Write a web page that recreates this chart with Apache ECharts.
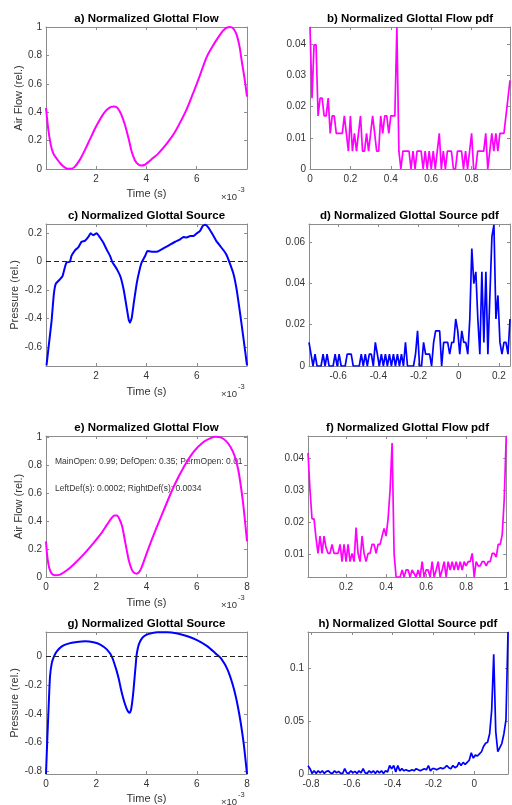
<!DOCTYPE html>
<html>
<head>
<meta charset="utf-8">
<script src="https://cdn.jsdelivr.net/npm/echarts@6/dist/echarts.min.js"></script>
<style>
  html, body { margin: 0; padding: 0; background: #fff; }
  #charts { width: 512px; height: 805px; }
</style>
</head>
<body>
<div id="charts"></div>
<script>
// a) measured glottal flow, time in ms (axis shows x10^-3 s)
var flowTimeA = [0.01,0.1,0.2,0.3,0.45,0.6,0.75,0.88,1.0,1.15,1.36,1.56,1.76,1.96,2.16,2.3,2.45,2.6,2.72,2.85,3.0,3.15,3.3,3.42,3.55,3.67,3.8,3.92,4.05,4.25,4.45,4.68,4.9,5.1,5.35,5.6,5.85,6.1,6.4,6.65,6.85,7.05,7.2,7.32,7.45,7.58,7.7,7.8,7.9,8.0];
var flowA = [0.43,0.28,0.17,0.11,0.07,0.035,0.012,0.002,0.002,0.015,0.066,0.135,0.21,0.285,0.35,0.39,0.42,0.437,0.44,0.43,0.385,0.31,0.21,0.12,0.06,0.033,0.024,0.028,0.045,0.075,0.105,0.15,0.2,0.25,0.33,0.42,0.53,0.645,0.79,0.87,0.925,0.975,0.995,1.0,0.99,0.95,0.865,0.75,0.64,0.51];

// b) pdf of a, bins from 0 step 0.01
var pdfStartB = 0, pdfStepB = 0.01;
var pdfB = [0.0455,0.0227,0.0398,0.0398,0.017,0.0227,0.0227,0.017,0.017,0.0227,
  0.0114,0.017,0.017,0.0114,0.0114,0.0114,0.0114,0.017,0.0114,0.0057,
  0.017,0.0057,0.0114,0.0057,0.0114,0.017,0.0057,0.0057,0.0114,0.0057,
  0.0114,0.017,0.0114,0.0057,0.0057,0.017,0.0114,0.017,0.017,0.0114,
  0.017,0.017,0.017,0.0455,0.0057,0,0.0057,0.0057,0.0057,0.0057,
  0,0.0057,0,0.0057,0.0057,0.0057,0,0.0057,0,0.0057,
  0,0.0057,0,0.0057,0.0114,0,0.0057,0,0.0057,0.0057,
  0.0057,0,0,0.0057,0.0057,0.0057,0,0.0057,0,0.0057,
  0.0114,0,0,0.0057,0.0057,0.0057,0.0057,0.0114,0,0.0057,
  0.0114,0.0057,0.0114,0.0057,0.0114,0.0114,0.0114,0.017,0.0227,0.0284];

// c) measured glottal source
var sourceTimeC = [0.04,0.15,0.24,0.33,0.41,0.57,0.68,0.77,0.83,0.97,1.03,1.17,1.3,1.43,1.56,1.70,1.79,1.89,2.03,2.16,2.29,2.42,2.56,2.66,2.75,2.85,2.98,3.11,3.22,3.3,3.35,3.42,3.51,3.62,3.72,3.81,3.95,4.04,4.21,4.41,4.54,4.74,4.94,5.14,5.34,5.47,5.6,5.74,5.87,6.0,6.13,6.23,6.33,6.46,6.6,6.77,6.93,7.06,7.17,7.3,7.46,7.59,7.72,7.85,7.99];
var sourceC = [-0.73,-0.56,-0.42,-0.23,-0.155,-0.125,-0.10,-0.04,-0.007,0,0.04,0.08,0.10,0.14,0.146,0.174,0.2,0.186,0.2,0.17,0.134,0.087,0.04,-0.007,-0.03,-0.06,-0.11,-0.207,-0.325,-0.41,-0.43,-0.395,-0.28,-0.15,-0.066,-0.007,0.04,0.075,0.07,0.07,0.08,0.10,0.12,0.14,0.157,0.174,0.17,0.18,0.18,0.2,0.216,0.25,0.26,0.24,0.2,0.146,0.11,0.08,0.05,-0.007,-0.09,-0.207,-0.37,-0.54,-0.73];

// d) pdf of c
var pdfStartD = -0.745, pdfStepD = 0.01;
var pdfD = [0.0114,0.0057,0,0.0057,0,0,0,0.0057,0,0.0057,
  0,0,0,0.0057,0,0.0057,0,0,0,0.0057,
  0.0057,0.0057,0,0,0,0,0.0057,0,0.0057,0,
  0.0057,0.0057,0,0.0114,0.0057,0,0.0057,0,0.0057,0,
  0.0057,0,0.0057,0,0.0057,0,0.0057,0,0.0114,0,
  0,0,0,0.0057,0.017,0,0,0.0114,0.0057,0.0057,
  0.0057,0,0.0114,0.017,0.017,0.017,0,0.0114,0.0114,0.0114,
  0.0057,0.0114,0.0114,0.0227,0.017,0.0057,0.017,0.0114,0.0114,0.0057,
  0.0227,0.0568,0.0398,0.0455,0.0227,0.0057,0.0455,0.0114,0.0455,0.0057,
  0.0341,0.0625,0.0682,0.0227,0.0341,0.0114,0.0057,0.0114,0.0114,0.0057,
  0.0227];

// e) model glottal flow
var flowTimeE = [0,0.05,0.13,0.23,0.36,0.56,0.83,1.09,1.49,1.89,2.16,2.43,2.6,2.72,2.82,2.92,3.03,3.16,3.29,3.41,3.51,3.6,3.68,3.78,3.89,4.09,4.36,4.69,5.09,5.49,5.89,6.29,6.55,6.75,6.95,7.16,7.35,7.5,7.65,7.83,8.0];
var flowE = [0.255,0.15,0.064,0.024,0.012,0.017,0.048,0.088,0.16,0.243,0.303,0.375,0.42,0.44,0.44,0.415,0.363,0.243,0.124,0.055,0.03,0.024,0.03,0.058,0.11,0.21,0.335,0.48,0.65,0.79,0.9,0.97,0.995,1.005,1.0,0.975,0.93,0.87,0.77,0.55,0.255];

// f) pdf of e
var pdfStartF = 0.01, pdfStepF = 0.01;
var pdfF = [0.0416,0.030,0.021,0.021,0.015,0.0102,0.0156,0.0102,0.0156,0.012,
  0.0102,0.0102,0.013,0.0102,0.0102,0.0102,0.013,0.0076,0.013,0.0076,
  0.013,0.0076,0.0102,0.0076,0.0183,0.0102,0.0076,0.0156,0.0102,0.0076,
  0.0102,0.0102,0.013,0.013,0.0102,0.013,0.013,0.0156,0.018,0.0156,
  0.021,0.030,0.0447,0.010,0.0028,0.0028,0.0028,0.005,0.0028,0.005,
  0.005,0.0028,0.005,0.0039,0.0028,0.005,0.0028,0.0076,0.0028,0.005,
  0.005,0.0028,0.0076,0.0028,0.005,0.0076,0.0028,0.005,0.0076,0.0028,
  0.0076,0.005,0.0076,0.005,0.0076,0.005,0.0076,0.005,0.0076,0.0063,
  0.0076,0.0076,0.0102,0.0028,0.0076,0.0063,0.0063,0.0076,0.0076,0.0063,
  0.0076,0.0076,0.0102,0.0102,0.009,0.013,0.013,0.016,0.027,0.0468];

// g) model glottal source
var sourceTimeG = [0,0.05,0.11,0.16,0.23,0.32,0.43,0.63,0.89,1.23,1.56,1.89,2.16,2.43,2.63,2.8,2.9,2.96,3.04,3.12,3.2,3.27,3.33,3.38,3.43,3.48,3.53,3.57,3.6,3.64,3.7,3.78,3.9,4.09,4.43,4.83,5.23,5.63,6.03,6.43,6.76,6.96,7.23,7.49,7.69,7.87,8.0];
var sourceG = [-0.82,-0.585,-0.33,-0.14,-0.047,0,0.035,0.07,0.089,0.1,0.105,0.098,0.082,0.047,-0.005,-0.094,-0.16,-0.21,-0.27,-0.32,-0.36,-0.385,-0.393,-0.375,-0.32,-0.24,-0.14,-0.06,0,0.045,0.085,0.115,0.14,0.157,0.168,0.168,0.159,0.14,0.112,0.07,0.019,-0.012,-0.094,-0.234,-0.40,-0.61,-0.82];

// h) pdf of g
var pdfStartH = -0.815, pdfStepH = 0.01;
var pdfH = [0.0078,0.005,0.0006,0.003,0.0006,0.003,0.001,0.003,0.0006,0.0025,
  0.003,0.001,0.0006,0.003,0.001,0.0025,0.0006,0.0006,0.005,0.001,
  0.0006,0.003,0.001,0.0025,0.0006,0.003,0.001,0.005,0.001,0.0006,
  0.003,0.001,0.003,0.0006,0.003,0.001,0.003,0.0006,0.003,0.002,
  0.008,0.005,0.008,0.002,0.008,0.003,0.005,0.003,0.004,0.003,
  0.003,0.004,0.003,0.005,0.004,0.003,0.004,0.005,0.004,0.008,
  0.003,0.005,0.005,0.004,0.005,0.006,0.005,0.006,0.008,0.006,
  0.005,0.008,0.006,0.007,0.011,0.008,0.011,0.009,0.011,0.013,
  0.02,0.015,0.018,0.017,0.019,0.021,0.026,0.029,0.03,0.038,
  0.06,0.113,0.04,0.021,0.025,0.029,0.038,0.051,0.134];

// tick values
var timeTicks = [2, 4, 6];
var timeTicksFull = [0, 2, 4, 6, 8];
var unitTicks = [0, 0.2, 0.4, 0.6, 0.8, 1];
var sourceTicksC = [-0.6, -0.4, -0.2, 0, 0.2];
var sourceTicksG = [-0.8, -0.6, -0.4, -0.2, 0];
var pdfTicksB = [0, 0.01, 0.02, 0.03, 0.04];
var pdfTicksD = [0, 0.02, 0.04, 0.06];
var pdfTicksF = [0.01, 0.02, 0.03, 0.04];
var pdfTicksH = [0, 0.05, 0.1];
var flowBinTicksB = [0, 0.2, 0.4, 0.6, 0.8];
var flowBinTicksF = [0.2, 0.4, 0.6, 0.8, 1];
var srcBinTicksD = [-0.6, -0.4, -0.2, 0, 0.2];
var srcBinTicksH = [-0.8, -0.6, -0.4, -0.2, 0];

var MAGENTA = '#ff00ff', BLUE = '#0000ff';
var FONT = '"Liberation Sans", Arial, Helvetica, sans-serif';

function zip(xs, ys) {
    var out = [];
    for (var i = 0; i < Math.min(xs.length, ys.length); i++) out.push([xs[i], ys[i]]);
    return out;
}
function bins(start, step, vals) {
    return vals.map(function (v, i) { return [+(start + step * i).toFixed(4), v]; });
}

var panels = [
    {title: 'a) Normalized Glottal Flow', grid: [46, 27, 201, 142], xr: [0.01, 8.0, timeTicks], yr: [0, 1, unitTicks],
     data: zip(flowTimeA, flowA), color: MAGENTA, smooth: 0.3, yName: 'Air Flow (rel.)', yGap: 17, xName: 'Time (s)', xGap: 19, exp: true},
    {title: 'b) Normalized Glottal Flow pdf', grid: [310, 27, 200, 142], xr: [0, 0.99, flowBinTicksB], yr: [0, 0.0455, pdfTicksB],
     data: bins(pdfStartB, pdfStepB, pdfB), color: MAGENTA, smooth: false},
    {title: 'c) Normalized Glottal Source', grid: [46, 224, 201, 142], xr: [0.02, 7.99, timeTicks], yr: [-0.735, 0.265, sourceTicksC],
     data: zip(sourceTimeC, sourceC), color: BLUE, smooth: 0.12, zero: true, yName: 'Pressure (rel.)', yGap: 22, xName: 'Time (s)', xGap: 20, exp: true},
    {title: 'd) Normalized Glottal Source pdf', grid: [309, 224, 201, 142], xr: [-0.745, 0.255, srcBinTicksD], yr: [0, 0.0686, pdfTicksD],
     data: bins(pdfStartD, pdfStepD, pdfD), color: BLUE, smooth: false},
    {title: 'e) Normalized Glottal Flow', grid: [46, 436, 201, 141], xr: [0, 8, timeTicksFull], yr: [0, 1.01, unitTicks],
     data: zip(flowTimeE, flowE), color: MAGENTA, smooth: 0.3, yName: 'Air Flow (rel.)', yGap: 17, xName: 'Time (s)', xGap: 20, exp: true},
    {title: 'f) Normalized Glottal Flow pdf', grid: [308, 436, 199, 141], xr: [0.01, 1.0, flowBinTicksF], yr: [0.0028, 0.0469, pdfTicksF],
     data: bins(pdfStartF, pdfStepF, pdfF), color: MAGENTA, smooth: false},
    {title: 'g) Normalized Glottal Source', grid: [46, 632, 201, 142], xr: [0, 8, timeTicksFull], yr: [-0.82, 0.17, sourceTicksG],
     data: zip(sourceTimeG, sourceG), color: BLUE, smooth: 0.2, zero: true, yName: 'Pressure (rel.)', yGap: 22, xName: 'Time (s)', xGap: 19, exp: true},
    {title: 'h) Normalized Glottal Source pdf', grid: [308, 632, 200, 142], xr: [-0.815, 0.165, srcBinTicksH], yr: [0, 0.134, pdfTicksH],
     data: bins(pdfStartH, pdfStepH, pdfH), color: BLUE, smooth: false}
];

function fmt(v) { return String(+(+v).toFixed(4)); }

function axis(gi, pos, range, withLabel, name, gap) {
    var a = {
        type: 'value', gridIndex: gi, position: pos, min: range[0], max: range[1],
        axisLine: {show: true, onZero: false, lineStyle: {color: '#8c8c8c', width: 1}},
        axisTick: {show: true, inside: true, length: 3, customValues: range[2], lineStyle: {color: '#8c8c8c', width: 1}},
        axisLabel: {show: withLabel, customValues: range[2], formatter: fmt, color: '#333', fontSize: 10,
                    fontFamily: FONT, margin: (pos === 'left' ? 4 : 5)},
        splitLine: {show: false}
    };
    if (name) {
        a.name = name;
        a.nameLocation = 'middle';
        a.nameGap = gap;
        a.nameTextStyle = {color: '#333', fontSize: 11, fontFamily: FONT};
    }
    return a;
}

var grids = [], xAxes = [], yAxes = [], series = [], graphics = [];
panels.forEach(function (p, i) {
    var g = p.grid;
    grids.push({left: g[0], top: g[1], width: g[2], height: g[3], show: false});
    xAxes.push(axis(i, 'bottom', p.xr, true, p.xName, p.xGap));
    xAxes.push(axis(i, 'top', p.xr, false));
    yAxes.push(axis(i, 'left', p.yr, true, p.yName, p.yGap));
    yAxes.push(axis(i, 'right', p.yr, false));
    var s = {
        type: 'line', xAxisIndex: 2 * i, yAxisIndex: 2 * i, data: p.data,
        symbol: 'none', smooth: p.smooth, clip: true, animation: false,
        lineStyle: {color: p.color, width: p.smooth === false ? 1.7 : 2}
    };
    if (p.zero) {
        s.markLine = {silent: true, symbol: 'none', animation: false, label: {show: false},
                      lineStyle: {color: '#222', type: [5, 3], width: 1}, data: [{yAxis: 0}]};
    }
    series.push(s);
    graphics.push({type: 'text', x: g[0] + g[2] / 2, y: g[1] - 8,
        style: {text: p.title, align: 'center', verticalAlign: 'middle', fill: '#000',
                fontSize: 11.5, fontWeight: 'bold', fontFamily: FONT}});
    if (p.exp) {
        var by = g[1] + g[3] + 28;
        graphics.push({type: 'text', x: 221, y: by,
            style: {text: '\u00d710', align: 'left', verticalAlign: 'middle', fill: '#333', fontSize: 9.5, fontFamily: FONT}});
        graphics.push({type: 'text', x: 238, y: by - 7,
            style: {text: '-3', align: 'left', verticalAlign: 'middle', fill: '#333', fontSize: 7.5, fontFamily: FONT}});
    }
});

// parameter annotation inside panel e
graphics.push({type: 'text', x: 55, y: 462,
    style: {text: 'MainOpen: 0.99; DefOpen: 0.35; PermOpen: 0.01', align: 'left', verticalAlign: 'middle',
            fill: '#333', fontSize: 8.5, fontFamily: FONT}});
graphics.push({type: 'text', x: 55, y: 489,
    style: {text: 'LeftDef(s): 0.0002; RightDef(s): 0.0034', align: 'left', verticalAlign: 'middle',
            fill: '#333', fontSize: 8.5, fontFamily: FONT}});

var chart = echarts.init(document.getElementById('charts'), null, {renderer: 'canvas'});
chart.setOption({
    backgroundColor: '#fff',
    animation: false,
    grid: grids,
    xAxis: xAxes,
    yAxis: yAxes,
    series: series,
    graphic: graphics
});
</script>
</body>
</html>
